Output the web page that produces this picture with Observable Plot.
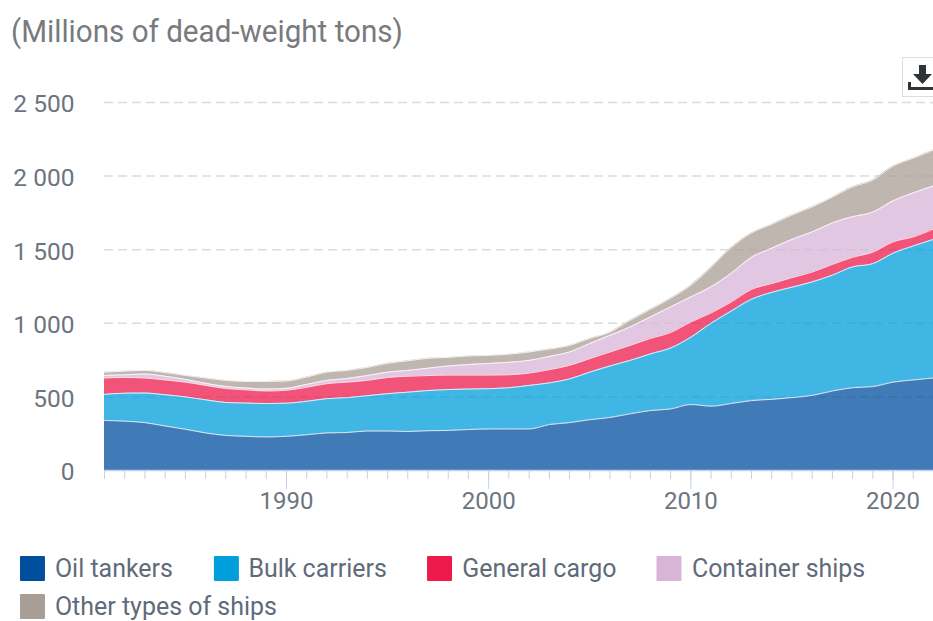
<!DOCTYPE html>
<html><head><meta charset="utf-8">
<script src="https://cdn.jsdelivr.net/npm/d3@7"></script>
<script src="https://cdn.jsdelivr.net/npm/@observablehq/plot@0.6"></script>
<style>
html,body{margin:0;padding:0;background:#fff;width:933px;height:621px;overflow:hidden;position:relative}
body{font-family:Roboto,sans-serif;color:#6d6e71}
#title{height:55px;margin-left:11px;font-size:31px;line-height:63px;color:#777a7e;white-space:nowrap;transform:scaleX(.955);transform-origin:left}
#chart{height:480px;position:relative}
#chart svg{display:block}
#legend{position:absolute;left:20px;top:549px;width:950px;display:flex;flex-wrap:wrap;column-gap:42.2px;row-gap:0;transform:scaleX(.96);transform-origin:left}
.item{display:flex;align-items:center;height:38px;font-size:26px;color:#5f6b7a}
.sw{width:26px;height:25px;margin-right:10.4px;border-radius:1px}
#dl{position:absolute;left:902px;top:57px;width:40px;height:40px;border:1px solid #ddd;box-sizing:border-box;background:#fff}
</style></head><body>
<div id="title">(Millions of dead-weight tons)</div>
<div id="chart"></div>
<div id="legend"></div>
<div id="dl"><svg width="31" height="38" viewBox="0 0 31 38" style="display:block"><path d="M16 7h7v9h6l-9.5 10-9.5-10h6z" fill="#2f3438"/><path d="M6.5 24v6.500h25" fill="none" stroke="#2f3438" stroke-width="3"/></svg></div>
<script>
const years = d3.range(1981, 2023);
const seriesNames = ["Oil tankers","Bulk carriers","General cargo","Container ships","Other types of ships"];
const seriesColors = ["#004f9f","#009edb","#ed1a4b","#d8b4d8","#a99e95"];
const oil = [340,335,325,302,280,255,238,232,228,232,243,255,258,268,268,265,270,272,278,282,282,282,312,325,345,360,385,407,418,448,437,455,475,483,495,510,540,562,570,600,615,628];
const bulk = [177,190,201,212,220,225,224,226,227,225,227,233,237,240,254,267,273,278,275,274,280,296,283,297,323,350,363,385,414,457,563,628,688,727,750,771,787,821,835,876,910,942];
const general = [111,107,102,101,100,98,95,90,85,88,95,102,105,104,110,108,102,98,95,92,88,84,90,92,92,95,102,105,105,104,70,62,67,60,65,67,73,65,78,77,62,70];
const container = [18,18,27,25,19,14,14,12,13,13,20,22,25,33,36,40,50,62,72,79,85,86,90,91,102,113,125,146,174,170,178,195,218,240,260,273,282,276,272,279,299,292];
const other = [21,25,25,25,27,36,41,45,52,50,50,56,55,55,60,65,67,58,58,55,55,57,50,45,35,22,45,52,59,79,132,175,166,163,165,170,175,203,218,236,236,245];
const yTicks = [0,500,1000,1500,2000,2500];
const decades = [1990,2000,2010,2020];

const all = [oil,bulk,general,container,other];
const rows = all.flatMap((vals,i)=>vals.map((v,j)=>({year:years[j],value:v,type:seriesNames[i]})));
const stackOpts = {x:"year",y:"value",z:"type",order:seriesNames};
const fmt = d => d3.format(",")(d).replace(",", " ");

const plot = Plot.plot({
  width:933,height:480,marginLeft:104,marginRight:0,marginTop:47,marginBottom:65,
  style:{fontFamily:"Roboto,sans-serif",background:"transparent",overflow:"hidden"},
  x:{domain:[1981,2022]},
  y:{domain:[0,2500]},
  color:{domain:seriesNames,range:seriesColors},
  marks:[
    Plot.ruleY(yTicks.slice(1),{stroke:"#dcdcdc",strokeWidth:1.5,strokeDasharray:"9 5"}),
    Plot.areaY(rows,Plot.stackY({...stackOpts,fill:"type",fillOpacity:0.75,curve:"monotone-x"})),
    Plot.line(rows,Plot.stackY2({...stackOpts,stroke:"#fff",strokeWidth:1,strokeOpacity:0.8,curve:"monotone-x"})),
    Plot.ruleY([0],{stroke:"#c5d0e8",strokeWidth:1.5}),
    Plot.axisX({ticks:years,tickSize:9,tickFormat:()=>"",stroke:"#c5d0e8",label:null}),
    Plot.axisX({ticks:decades,tickSize:19,tickPadding:2,tickFormat:"d",stroke:"#c5d0e8",fill:"#6d7480",fontSize:24,label:null}),
    Plot.axisY({ticks:yTicks,tickSize:0,tickPadding:30,tickFormat:fmt,fill:"#6d7480",fontSize:24.5,dy:2,label:null})
  ]
});
document.getElementById("chart").append(plot);
const lg = document.getElementById("legend");
seriesNames.forEach((n,i)=>{
  const d=document.createElement("div");d.className="item";
  const s=document.createElement("div");s.className="sw";s.style.background=seriesColors[i];
  d.append(s,document.createTextNode(n));lg.append(d);
});
</script>
</body></html>
